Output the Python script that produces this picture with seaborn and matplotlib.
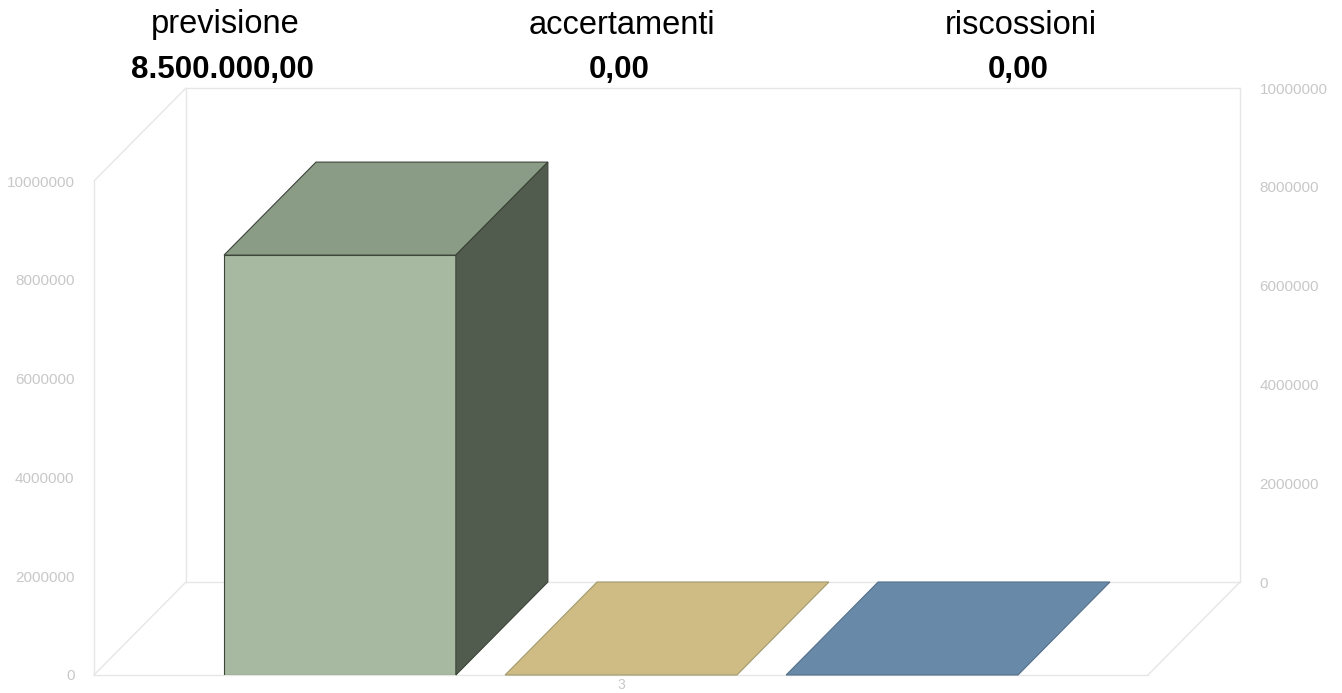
import numpy as np
import pandas as pd
import matplotlib.pyplot as plt
import seaborn as sns
from matplotlib.patches import Polygon
from matplotlib.lines import Line2D

# dati del grafico
voci = ['previsione', 'accertamenti', 'riscossioni']
valori = [8500000.0, 0.0, 0.0]
gruppo = ['3', '3', '3']
etichette_valori = ['8.500.000,00', '0,00', '0,00']
y_ticks = [0, 2000000, 4000000, 6000000, 8000000, 10000000]

# colori: faccia frontale, superiore, laterale, bordo
col_fronte = ['#a7b9a0', '#dccb98', '#7e9dbb']
col_sopra = ['#8b9c86', '#cebc84', '#6889a8']
col_lato = ['#525c4e', '#857a55', '#44596e']
col_bordo = ['#3c4439', '#a19a6c', '#54708c']

sns.set_theme(style='white')
plt.rcParams['font.family'] = ['Liberation Sans', 'DejaVu Sans']

W, H = 1342, 693
fig = plt.figure(figsize=(W / 100, H / 100), dpi=100)
ax_back = fig.add_axes([186 / W, 111 / H, 1054 / W, 494 / H])
ax = fig.add_axes([94 / W, 18 / H, 1054 / W, 494 / H])

df = pd.DataFrame({'gruppo': gruppo, 'voce': voci, 'valore': valori})
sns.barplot(data=df, x='gruppo', y='valore', hue='voce', hue_order=voci,
            palette=dict(zip(voci, col_fronte)), width=0.8, gap=0.175,
            legend=False, saturation=1, ax=ax, zorder=3)

grid_col = '#e6e6e6'
tick_col = '#c8c8c8'
for a in (ax, ax_back):
    a.set_xlim(-0.5, 0.5)
    a.set_ylim(0, 10000000)
    a.set_xlabel('')
    a.set_ylabel('')

# piano frontale
ax.set_facecolor('none')
ax.set_yticks(y_ticks)
ax.set_yticklabels([str(v) for v in y_ticks])
ax.tick_params(axis='y', length=0, pad=14, labelsize=11, labelcolor=tick_col)
ax.tick_params(axis='x', length=0, pad=2, labelsize=10, labelcolor=tick_col)
for s in ['top', 'right']:
    ax.spines[s].set_visible(False)
for s in ['left', 'bottom']:
    ax.spines[s].set_color(grid_col)
    ax.spines[s].set_linewidth(1)

# parete di fondo
ax_back.set_facecolor('white')
ax_back.set_xticks([])
ax_back.yaxis.tick_right()
ax_back.set_yticks(y_ticks)
ax_back.set_yticklabels([str(v) for v in y_ticks])
ax_back.tick_params(axis='y', length=0, pad=14, labelsize=11, labelcolor=tick_col)
for s in ax_back.spines.values():
    s.set_color(grid_col)
    s.set_linewidth(1)

# diagonali tra piano frontale e fondo
to_fig = fig.transFigure.inverted()
for corner in [(0, 0), (1, 0), (0, 1)]:
    p0 = to_fig.transform(ax.transAxes.transform(corner))
    p1 = to_fig.transform(ax_back.transAxes.transform(corner))
    fig.add_artist(Line2D([p0[0], p1[0]], [p0[1], p1[1]], color=grid_col,
                          lw=1, transform=fig.transFigure))


def verso_fondo(x, y):
    # stesso punto sul piano di fondo, espresso nei dati del piano frontale
    disp = ax_back.transData.transform((x, y))
    return ax.transData.inverted().transform(disp)


bars = sorted(ax.patches, key=lambda p: p.get_x())
for i, p in enumerate(bars):
    x0, w, h = p.get_x(), p.get_width(), p.get_height()
    x1 = x0 + w
    p.set_edgecolor(col_bordo[i])
    p.set_linewidth(0.8)
    b00 = verso_fondo(x0, h)
    b10 = verso_fondo(x1, h)
    b1b = verso_fondo(x1, 0)
    top = Polygon([(x0, h), (x1, h), b10, b00], closed=True,
                  facecolor=col_sopra[i], edgecolor=col_bordo[i], lw=0.8,
                  clip_on=False, zorder=3)
    ax.add_patch(top)
    if h > 0:
        side = Polygon([(x1, 0), (x1, h), b10, b1b], closed=True,
                       facecolor=col_lato[i], edgecolor=col_bordo[i], lw=0.8,
                       clip_on=False, zorder=3)
        ax.add_patch(side)

# intestazioni
title_x = [225, 622, 1021]
for tx, voce, val in zip(title_x, voci, etichette_valori):
    fig.text(tx / W, 1 - 25 / H, voce, ha='center', va='center', fontsize=23.5,
             color='black')
    fig.text((tx - 3) / W, 1 - 70 / H, val, ha='center', va='center',
             fontsize=22.5, fontweight='bold', color='black')

fig.savefig('out.png', dpi=100)
